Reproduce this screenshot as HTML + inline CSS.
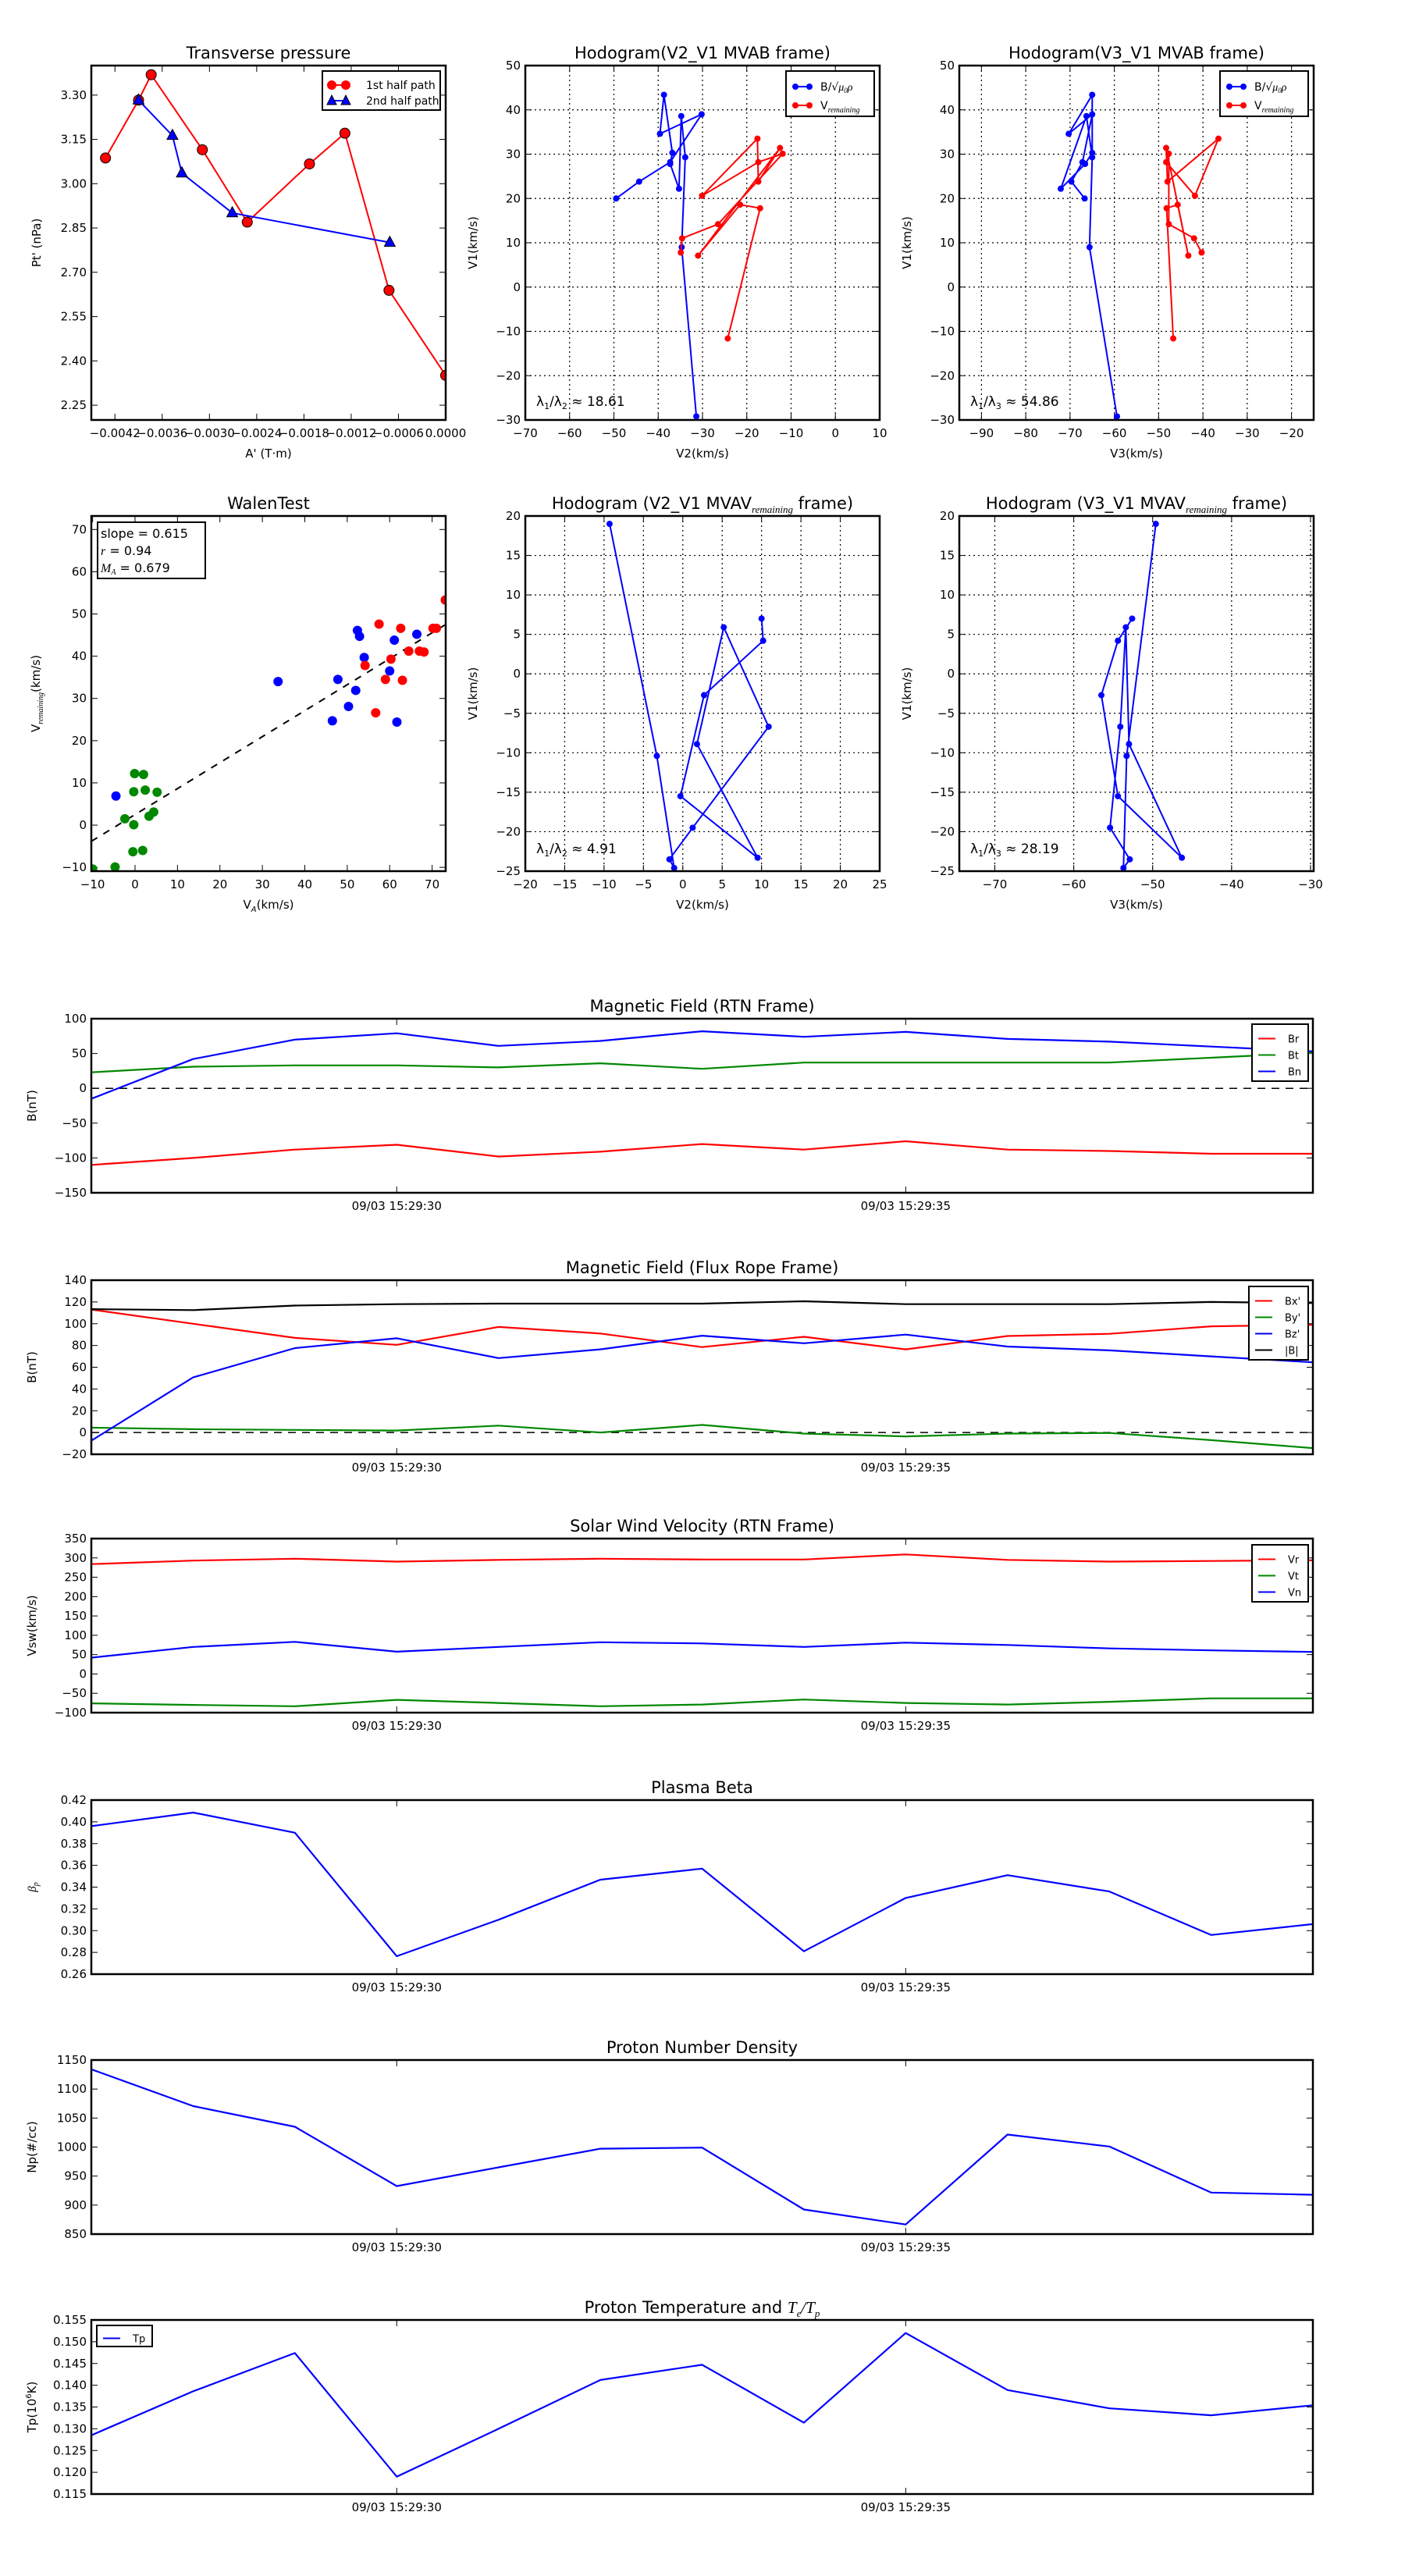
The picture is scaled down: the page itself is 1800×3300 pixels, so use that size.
<!DOCTYPE html>
<html><head><meta charset="utf-8"><title>Flux rope analysis</title>
<style>
html,body{margin:0;padding:0;background:#fff;}
svg{display:block;font-family:"DejaVu Sans","Liberation Sans",sans-serif;}
</style></head>
<body>
<svg id="fig" width="1800" height="3300" viewBox="0 0 1800 3300" xmlns="http://www.w3.org/2000/svg"></svg>
<script>
// ---- data ----
const ptA1 = [-0.00432,-0.00390,-0.00374,-0.00309,-0.00252,-0.00173,-0.00128,-0.00072,0.0];
const ptP1 = [3.087,3.283,3.369,3.115,2.870,3.067,3.171,2.639,2.351];
const ptA2 = [-0.00390,-0.00347,-0.00335,-0.00271,-0.00071];
const ptP2 = [3.283,3.163,3.036,2.901,2.801];

const hbV1 = [20.0,23.8,28.2,39.0,34.6,43.4,30.3,27.8,22.2,38.6,29.3,9.0,-29.2];
const hbV2 = [-49.5,-44.3,-37.3,-30.2,-39.6,-38.7,-36.8,-37.3,-35.3,-34.8,-33.9,-34.7,-31.4];
const hbV3 = [-66.7,-69.7,-67.2,-65.0,-70.3,-65.0,-65.0,-66.6,-72.1,-66.3,-65.0,-65.6,-59.4];
const hrV1 = [7.8,11.0,14.2,30.1,28.2,20.6,33.5,23.8,31.4,7.1,18.6,17.8,-11.6];
const hrV2 = [-34.9,-34.6,-26.5,-11.9,-17.4,-30.1,-17.6,-17.4,-12.5,-31.0,-21.5,-17.0,-24.3];
const hrV3 = [-40.3,-42.0,-47.7,-47.7,-48.3,-41.8,-36.5,-48.0,-48.3,-43.3,-45.7,-48.2,-46.7];

const walBlueX = [-4.5,33.7,47.8,46.5,50.3,52.0,52.4,52.9,54.0,60.0,61.1,61.7,66.4];
const walBlueY = [6.9,34.0,34.5,24.7,28.1,31.9,46.1,44.7,39.7,36.5,43.8,24.4,45.2];
const walRedX = [57.5,54.2,56.7,59.0,60.3,62.6,63.0,64.5,67.0,68.1,70.2,71.0,73.1];
const walRedY = [47.6,37.8,26.6,34.5,39.3,46.6,34.3,41.2,41.2,41.0,46.6,46.6,53.3];
const walGreenX = [-0.1,2.0,-0.3,2.4,5.2,-2.4,-0.3,3.3,4.4,-0.5,1.8,-4.7,-10.0];
const walGreenY = [12.2,12.0,7.9,8.3,7.8,1.5,0.1,2.1,3.1,-6.3,-6.0,-9.9,-10.4];
const walSlope = 0.615, walIntercept = 2.5;

const mvV1 = [19.0,-10.4,-24.6,-23.5,-19.5,-6.7,5.9,-8.9,-23.3,-15.5,-2.7,4.2,7.0];
const mvV2 = [-9.3,-3.3,-1.1,-1.7,1.25,10.9,5.2,1.8,9.5,-0.3,2.7,10.2,10.0];
const mvV3 = [-49.6,-53.3,-53.7,-52.9,-55.4,-54.1,-53.4,-53.0,-46.3,-54.4,-56.5,-54.4,-52.6];

const timeIdx = [0,1,2,3,4,5,6,7,8,9,10,11,12];
const timeTickIdx = [3,8];
const timeTickLabels = ["09/03 15:29:30","09/03 15:29:35"];
const Br = [-110,-100,-88,-81,-98,-91,-80,-88,-76,-88,-90,-94,-94];
const Bt = [23,31,33,33,30,36,28,37,37,37,37,44,51];
const Bn = [-15,42,70,79,61,68,82,74,81,71,67,60,53];
const Bxp = [113,100,87,80.6,97,91,78.5,88,76.4,88.7,90.7,97.6,99];
const Byp = [4.5,3,2.4,1.8,6.3,0,7,-1,-3.6,-1,-0.4,-7,-14.3];
const Bzp = [-7.5,50.7,77.6,86.6,68.4,76.4,89,82,90,79,75.5,70,64.5];
const Bmag = [113.4,112.5,116.7,118,118.5,118.5,118.5,120.6,118,118,118,120,119];
const Vr = [284,293,298,290.5,295,298,296,296,309,295,290.5,292,294];
const Vt = [-76,-80,-83.5,-67,-75,-83.5,-79,-66,-75,-79,-72,-63,-63];
const Vn = [42,70,83,57.6,70,82,79,70,81,75,66,61,57];
const betaP = [0.396,0.4085,0.39,0.2765,0.31,0.3468,0.357,0.281,0.33,0.351,0.336,0.296,0.306];
const Np = [1134,1070.6,1035,932.7,965,997.2,999,892.4,866.5,1021.5,1001,921.6,917.8];
const Tp = [0.1285,0.1386,0.1474,0.119,0.130,0.1412,0.1447,0.1314,0.152,0.1389,0.1347,0.1331,0.1354];

// ---- helpers ----
const NS='http://www.w3.org/2000/svg';
const svg=document.getElementById('fig');
function el(tag,attrs,parent){const e=document.createElementNS(NS,tag);for(const k in attrs)e.setAttribute(k,attrs[k]);(parent||svg).appendChild(e);return e;}
function tag(e,name,inter){
  
  
  return e;
}
function fmt(v,d){let s=Math.abs(v)<1e-12?(0).toFixed(d):v.toFixed(d);return s.replace('-','\u2212');}
function rng(a,b,s){const r=[];for(let v=a;v<=b+s*1e-6;v+=s)r.push(+v.toFixed(6));return r;}
let clipId=0;
function axes(p){
  const g=el('g',{});tag(g,p.name+'-panel');
  const sx=v=>p.x+(v-p.xmin)/(p.xmax-p.xmin)*p.w;
  const sy=v=>p.y+p.h-(v-p.ymin)/(p.ymax-p.ymin)*p.h;
  if(p.grid){
    p.xticks.forEach(v=>{const l=el('line',{x1:sx(v),x2:sx(v),y1:p.y,y2:p.y+p.h,stroke:'#000','stroke-width':1.2,'stroke-dasharray':'2,4'},g);tag(l,'x-gridline');});
    p.yticks.forEach(v=>{const l=el('line',{x1:p.x,x2:p.x+p.w,y1:sy(v),y2:sy(v),stroke:'#000','stroke-width':1.2,'stroke-dasharray':'2,4'},g);tag(l,'y-gridline');});
  }
  const xt=p.xtickPos||p.xticks;
  xt.forEach((v,i)=>{
    const X=sx(v);
    el('line',{x1:X,x2:X,y1:p.y+p.h,y2:p.y+p.h-8,stroke:'#000','stroke-width':1},g);
    el('line',{x1:X,x2:X,y1:p.y,y2:p.y+8,stroke:'#000','stroke-width':1},g);
    const t=el('text',{x:X,y:p.y+p.h+22,'font-size':15,'text-anchor':'middle'},g);
    t.textContent=p.xlabels?p.xlabels[i]:fmt(v,p.xdec||0);
    tag(t,'x-tick-label');
  });
  p.yticks.forEach(v=>{
    const Y=sy(v);
    el('line',{x1:p.x,x2:p.x+8,y1:Y,y2:Y,stroke:'#000','stroke-width':1},g);
    el('line',{x1:p.x+p.w,x2:p.x+p.w-8,y1:Y,y2:Y,stroke:'#000','stroke-width':1},g);
    const t=el('text',{x:p.x-6,y:Y+5,'font-size':15,'text-anchor':'end'},g);
    t.textContent=fmt(v,p.ydec||0);
    tag(t,'y-tick-label');
  });
  const cid='clip'+(clipId++);
  const cp=el('clipPath',{id:cid},g);el('rect',{x:p.x,y:p.y,width:p.w,height:p.h},cp);
  const data=el('g',{'clip-path':'url(#'+cid+')'},g);tag(data,p.name+'-plot-area');
  const fr=el('rect',{x:p.x,y:p.y,width:p.w,height:p.h,fill:'none',stroke:'#000','stroke-width':2.5},g);tag(fr,p.name+'-frame');
  if(p.title){const t=el('text',{x:p.x+p.w/2,y:p.y-9,'font-size':21,'text-anchor':'middle'},g);t.innerHTML=p.title;tag(t,p.name+'-title');}
  if(p.xlabel){const t=el('text',{x:p.x+p.w/2,y:p.y+p.h+(p.xlabOff||48),'font-size':15,'text-anchor':'middle'},g);t.innerHTML=p.xlabel;tag(t,'x-axis-title');}
  if(p.ylabel){const cx=p.x+(p.ylabOff||-64),cy=p.y+p.h/2;const t=el('text',{x:cx,y:cy,'font-size':15,'text-anchor':'middle',transform:`rotate(-90 ${cx} ${cy})`},g);t.innerHTML=p.ylabel;tag(t,'y-axis-title');}
  return {sx,sy,data,g};
}
function polyline(ax,xs,ys,color,name,w){
  const pts=xs.map((x,i)=>ax.sx(x).toFixed(1)+','+ax.sy(ys[i]).toFixed(1)).join(' ');
  const l=el('polyline',{points:pts,fill:'none',stroke:color,'stroke-width':w||2,'stroke-linejoin':'round'},ax.data);tag(l,name);return l;
}
function dots(ax,xs,ys,color,name,r,stroke){
  xs.forEach((x,i)=>{const c=el('circle',{cx:ax.sx(x),cy:ax.sy(ys[i]),r:r,fill:color,stroke:stroke||'none','stroke-width':1},ax.data);tag(c,name);});
}
function tris(ax,xs,ys,color,name){
  xs.forEach((x,i)=>{const X=ax.sx(x),Y=ax.sy(ys[i]);const t=el('polygon',{points:`${X},${Y-8} ${X-7},${Y+5} ${X+7},${Y+5}`,fill:color,stroke:'#000','stroke-width':1},ax.data);tag(t,name);});
}
function legend(x,y,w,entries,name,rowH,fs){
  const g=el('g',{});tag(g,name);
  const h=entries.length*rowH+10;
  el('rect',{x:x,y:y,width:w,height:h,fill:'#fff',stroke:'#000','stroke-width':2},g);
  entries.forEach((e,i)=>{
    const Y=y+8+rowH*(i+0.5);
    const ent=el('g',{},g);tag(ent,'legend-entry-'+e.key);
    el('line',{x1:x+8,x2:x+30,y1:Y,y2:Y,stroke:e.color,'stroke-width':2},ent);
    if(e.marker==='circle'){el('circle',{cx:x+12,cy:Y,r:e.r||6,fill:e.color,stroke:e.ms||'none'},ent);el('circle',{cx:x+30,cy:Y,r:e.r||6,fill:e.color,stroke:e.ms||'none'},ent);}
    if(e.marker==='tri'){[x+12,x+30].forEach(X=>el('polygon',{points:`${X},${Y-7} ${X-6},${Y+5} ${X+6},${Y+5}`,fill:e.color,stroke:'#000'},ent));}
    const t=el('text',{x:x+(e.tx||40),y:Y+5,'font-size':fs||13},ent);t.innerHTML=e.label;
  });
  return g;
}
const COL=[117,673,1229], AW=454;

// ---- Transverse pressure ----
{
  const ax=axes({name:'transverse-pressure',x:COL[0],y:84,w:AW,h:454,xmin:-0.0045,xmax:0,ymin:2.2,ymax:3.4,
    xticks:rng(-0.0042,0,0.0006),xdec:4,yticks:rng(2.25,3.30,0.15),ydec:2,
    title:'Transverse pressure',xlabel:"A' (T\u00b7m)",ylabel:"Pt' (nPa)",ylabOff:-65});
  polyline(ax,ptA1,ptP1,'#f00','first-half-path-line',2);
  dots(ax,ptA1,ptP1,'#f00','first-half-point',6.5,'#000');
  polyline(ax,ptA2,ptP2,'#00f','second-half-path-line',2);
  tris(ax,ptA2,ptP2,'#00f','second-half-point');
  legend(413,91,151,[{key:'first-half',color:'#f00',marker:'circle',label:'1st half path',tx:56},{key:'second-half',color:'#00f',marker:'tri',label:'2nd half path',tx:56}],'transverse-legend',20,14);
}
// ---- Hodograms MVAB ----
const bLabel='B/\u221a<tspan font-style="italic" font-family="Liberation Serif,serif">\u03bc<tspan font-size="9" dy="3">0</tspan><tspan dy="-3">\u03c1</tspan></tspan>';
const vLabel='V<tspan font-size="10" dy="4" font-style="italic" font-family="Liberation Serif,serif">remaining</tspan>';
[[1,hbV2,hrV2,-70,10,'V2','\u03bb<tspan font-size="11" dy="4">1</tspan><tspan dy="-4">/\u03bb</tspan><tspan font-size="11" dy="4">2</tspan><tspan dy="-4"> \u2248 18.61</tspan>','hodogram-v2-v1-mvab'],
 [2,hbV3,hrV3,-95,-15,'V3','\u03bb<tspan font-size="11" dy="4">1</tspan><tspan dy="-4">/\u03bb</tspan><tspan font-size="11" dy="4">3</tspan><tspan dy="-4"> \u2248 54.86</tspan>','hodogram-v3-v1-mvab']].forEach(c=>{
  const [ci,bx,rx,xmin,xmax,vn,lam,name]=c;
  const ax=axes({name:name,x:COL[ci],y:84,w:AW,h:454,xmin:xmin,xmax:xmax,ymin:-30,ymax:50,
    xticks:rng(xmin===-95?-90:-70,xmax===-15?-20:10,10),yticks:rng(-30,50,10),grid:true,
    title:'Hodogram('+vn+'_V1 MVAB frame)',xlabel:vn+'(km/s)',ylabel:'V1(km/s)',ylabOff:-62});
  polyline(ax,bx,hbV1,'#00f','b-alfven-line',2);dots(ax,bx,hbV1,'#00f','b-alfven-point',4);
  polyline(ax,rx,hrV1,'#f00','v-remaining-line',2);dots(ax,rx,hrV1,'#f00','v-remaining-point',4);
  const t=el('text',{x:COL[ci]+14,y:520,'font-size':17});t.innerHTML=lam;tag(t,'eigenvalue-ratio');
  legend(COL[ci]+334,91,113,[{key:'b',color:'#00f',marker:'circle',r:4,label:bLabel,tx:44},{key:'v',color:'#f00',marker:'circle',r:4,label:vLabel,tx:44}],name+'-legend',24,14);
});
// ---- Walen test ----
{
  const ax=axes({name:'walen-test',x:COL[0],y:661,w:AW,h:455,xmin:-10.3,xmax:73.2,ymin:-10.9,ymax:73.2,
    xticks:rng(-10,70,10),yticks:rng(-10,70,10),title:'WalenTest',
    xlabel:'V<tspan font-size="10" dy="4" font-style="italic">A</tspan><tspan dy="-4">(km/s)</tspan>',
    ylabel:'V<tspan font-size="10" dy="4" font-style="italic" font-family="Liberation Serif,serif">remaining</tspan><tspan dy="-4">(km/s)</tspan>',ylabOff:-66});
  const fx=[ax.sx(-10.3),ax.sx(73.2)];
  const fl=el('line',{x1:fx[0],y1:ax.sy(walSlope*-10.3+walIntercept),x2:fx[1],y2:ax.sy(walSlope*73.2+walIntercept),stroke:'#000','stroke-width':2,'stroke-dasharray':'9,9'},ax.data);tag(fl,'fit-line');
  dots(ax,walBlueX,walBlueY,'#00f','walen-point-blue',6);
  dots(ax,walRedX,walRedY,'#f00','walen-point-red',6);
  dots(ax,walGreenX,walGreenY,'#080','walen-point-green',6);
  const bg=el('g',{});tag(bg,'walen-stats-box');
  el('rect',{x:125,y:669,width:138,height:72,fill:'#fff',stroke:'#000','stroke-width':2},bg);
  ['slope = 0.615','<tspan font-style="italic" font-family="Liberation Serif,serif">r</tspan> = 0.94','<tspan font-style="italic" font-family="Liberation Serif,serif">M<tspan font-size="10" dy="3">A</tspan></tspan><tspan dy="-3"> = 0.679</tspan>'].forEach((s,i)=>{const t=el('text',{x:129,y:689+i*22,'font-size':16},bg);t.innerHTML=s;});
}
// ---- Hodograms MVAV ----
[[1,mvV2,-20,25,5,'V2','\u03bb<tspan font-size="11" dy="4">1</tspan><tspan dy="-4">/\u03bb</tspan><tspan font-size="11" dy="4">2</tspan><tspan dy="-4"> \u2248 4.91</tspan>','hodogram-v2-v1-mvav'],
 [2,mvV3,-74.5,-29.6,10,'V3','\u03bb<tspan font-size="11" dy="4">1</tspan><tspan dy="-4">/\u03bb</tspan><tspan font-size="11" dy="4">3</tspan><tspan dy="-4"> \u2248 28.19</tspan>','hodogram-v3-v1-mvav']].forEach(c=>{
  const [ci,xs,xmin,xmax,st,vn,lam,name]=c;
  const ax=axes({name:name,x:COL[ci],y:661,w:AW,h:455,xmin:xmin,xmax:xmax,ymin:-25,ymax:20,
    xticks:ci===1?rng(-20,25,5):rng(-70,-30,10),yticks:rng(-25,20,5),grid:true,
    title:'Hodogram ('+vn+'_V1 MVAV<tspan font-size="13" dy="5" font-style="italic" font-family="Liberation Serif,serif">remaining</tspan><tspan dy="-5"> frame)</tspan>',
    xlabel:vn+'(km/s)',ylabel:'V1(km/s)',ylabOff:-62});
  polyline(ax,xs,mvV1,'#00f','mvav-line',2);dots(ax,xs,mvV1,'#00f','mvav-point',4);
  const t=el('text',{x:COL[ci]+14,y:1093,'font-size':17});t.innerHTML=lam;tag(t,'eigenvalue-ratio');
});
// ---- Time series ----
const TS=[
 {name:'magnetic-field-rtn',y:1305,ymin:-150,ymax:100,yt:rng(-150,100,50),d:0,title:'Magnetic Field (RTN Frame)',yl:'B(nT)',zero:true,
  s:[[Br,'#f00','Br'],[Bt,'#080','Bt'],[Bn,'#00f','Bn']],leg:[1604,1312,72]},
 {name:'magnetic-field-flux-rope',y:1640,ymin:-20,ymax:140,yt:rng(-20,140,20),d:0,title:'Magnetic Field (Flux Rope Frame)',yl:'B(nT)',zero:true,
  s:[[Bxp,'#f00',"Bx'"],[Byp,'#080',"By'"],[Bzp,'#00f',"Bz'"],[Bmag,'#000','|B|']],leg:[1600,1648,76]},
 {name:'solar-wind-velocity',y:1971,ymin:-100,ymax:350,yt:rng(-100,350,50),d:0,title:'Solar Wind Velocity (RTN Frame)',yl:'Vsw(km/s)',
  s:[[Vr,'#f00','Vr'],[Vt,'#080','Vt'],[Vn,'#00f','Vn']],leg:[1604,1979,72]},
 {name:'plasma-beta',y:2306,ymin:0.26,ymax:0.42,yt:rng(0.26,0.42,0.02),d:2,title:'Plasma Beta',yl:'<tspan font-style="italic" font-family="Liberation Serif,serif">\u03b2<tspan font-size="10" dy="3">p</tspan></tspan>',
  s:[[betaP,'#00f','beta']]},
 {name:'proton-number-density',y:2639,ymin:850,ymax:1150,yt:rng(850,1150,50),d:0,title:'Proton Number Density',yl:'Np(#/cc)',
  s:[[Np,'#00f','Np']]},
 {name:'proton-temperature',y:2972,ymin:0.115,ymax:0.155,yt:rng(0.115,0.155,0.005),d:3,
  title:'Proton Temperature and <tspan font-style="italic" font-family="Liberation Serif,serif">T<tspan font-size="13" dy="5">e</tspan><tspan dy="-5">/T</tspan><tspan font-size="13" dy="5">p</tspan></tspan>',yl:'Tp(10<tspan font-size="10" dy="-6">6</tspan><tspan dy="6">K)</tspan>',
  s:[[Tp,'#00f','Tp']],leg:[124,2979,71]}
];
TS.forEach(p=>{
  const ax=axes({name:p.name,x:117,y:p.y,w:1565,h:223,xmin:0,xmax:12,ymin:p.ymin,ymax:p.ymax,
    xticks:timeTickIdx,xlabels:timeTickLabels,yticks:p.yt,ydec:p.d,title:p.title,ylabel:p.yl,ylabOff:-71});
  if(p.zero){const z=el('line',{x1:117,x2:1682,y1:ax.sy(0),y2:ax.sy(0),stroke:'#000','stroke-width':1.5,'stroke-dasharray':'10,8'},ax.data);tag(z,'zero-line');}
  p.s.forEach(s=>polyline(ax,timeIdx,s[0],s[1],'series-'+s[2].replace(/[^A-Za-z]/g,'').toLowerCase(),2.2));
  if(p.leg){legend(p.leg[0],p.leg[1],p.leg[2],p.s.map(s=>({key:s[2].replace(/[^A-Za-z]/g,'').toLowerCase(),color:s[1],label:s[2],tx:46})),p.name+'-legend',p.s.length>1?21:17,13);}
});
</script>
</body></html>
